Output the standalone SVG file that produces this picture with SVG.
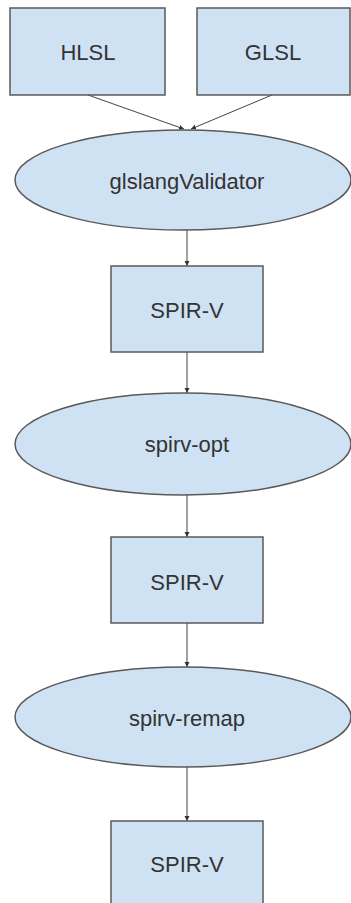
<svg xmlns="http://www.w3.org/2000/svg" width="351" height="903" viewBox="0 0 351 903">
<style>
.n{fill:#cfe2f3;stroke:#595959;stroke-width:1.5}
.t{font-family:"Liberation Sans",Arial,sans-serif;font-size:22px;fill:#333;text-anchor:middle}
.c{stroke:#444;stroke-width:1;fill:none;marker-end:url(#a)}
</style>
<defs>
<marker id="a" markerWidth="6" markerHeight="6" refX="5" refY="3" orient="auto" markerUnits="userSpaceOnUse">
<path d="M0,0.5 L5,3 L0,5.5 Z" fill="#333"/>
</marker>
</defs>
<rect width="351" height="903" fill="#fff"/>
<g id="connectors">
<line class="c" x1="88" y1="95" x2="184" y2="129"/>
<line class="c" x1="272" y1="95" x2="191" y2="129"/>
<line class="c" x1="187" y1="230" x2="187" y2="266"/>
<line class="c" x1="187" y1="352" x2="187" y2="393"/>
<line class="c" x1="187" y1="495" x2="187" y2="537"/>
<line class="c" x1="187" y1="623" x2="187" y2="667"/>
<line class="c" x1="187" y1="767" x2="187" y2="821"/>
</g>
<g id="hlsl"><rect class="n" x="10" y="8" width="155" height="87"/><text class="t" x="88" y="60">HLSL</text></g>
<g id="glsl"><rect class="n" x="197" y="8" width="153" height="87"/><text class="t" x="273" y="60">GLSL</text></g>
<g id="glslangValidator"><ellipse class="n" cx="183" cy="180" rx="168" ry="50"/><text class="t" x="187" y="189">glslangValidator</text></g>
<g id="spirv1"><rect class="n" x="111" y="266" width="152" height="86"/><text class="t" x="187" y="318">SPIR-V</text></g>
<g id="spirvopt"><ellipse class="n" cx="183" cy="444" rx="168" ry="51"/><text class="t" x="187" y="452">spirv-opt</text></g>
<g id="spirv2"><rect class="n" x="111" y="537" width="152" height="86"/><text class="t" x="187" y="590">SPIR-V</text></g>
<g id="spirvremap"><ellipse class="n" cx="183" cy="717" rx="168" ry="50"/><text class="t" x="187" y="726">spirv-remap</text></g>
<g id="spirv3"><rect class="n" x="111" y="821" width="152" height="90"/><text class="t" x="187" y="872">SPIR-V</text></g>
</svg>
